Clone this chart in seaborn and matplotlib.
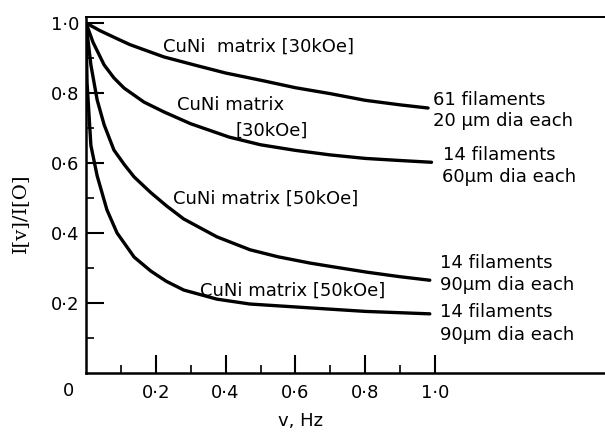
import matplotlib
matplotlib.use("Agg")
import matplotlib.pyplot as plt
import seaborn as sns
import pandas as pd
from matplotlib.ticker import FixedLocator

# ---- data ----
x_61_20 = [0, 0.04, 0.089, 0.126, 0.223, 0.318, 0.4, 0.507, 0.6, 0.70, 0.80, 0.9, 0.98]
y_61_20 = [1.0, 0.978, 0.955, 0.938, 0.903, 0.878, 0.857, 0.835, 0.815, 0.798, 0.779, 0.766, 0.757]

x_14_60 = [0, 0.02, 0.052, 0.08, 0.109, 0.166, 0.223, 0.3, 0.41, 0.5, 0.6, 0.7, 0.8, 0.9, 0.99]
y_14_60 = [1.0, 0.945, 0.88, 0.843, 0.814, 0.774, 0.746, 0.712, 0.674, 0.652, 0.636, 0.623, 0.613, 0.607, 0.602]

x_14_90a = [0, 0.014, 0.032, 0.052, 0.08, 0.11, 0.138, 0.186, 0.23, 0.28, 0.375, 0.47, 0.55, 0.642, 0.71, 0.805, 0.9, 0.985]
y_14_90a = [1.0, 0.88, 0.78, 0.709, 0.637, 0.595, 0.56, 0.515, 0.478, 0.44, 0.389, 0.352, 0.332, 0.314, 0.303, 0.288, 0.275, 0.265]

x_14_90b = [0, 0.003, 0.014, 0.032, 0.06, 0.089, 0.138, 0.186, 0.23, 0.28, 0.375, 0.47, 0.642, 0.8, 0.985]
y_14_90b = [1.0, 0.83, 0.65, 0.563, 0.466, 0.40, 0.331, 0.291, 0.262, 0.237, 0.211, 0.197, 0.186, 0.176, 0.169]

x_major = [0.2, 0.4, 0.6, 0.8, 1.0]
x_major_labels = ["0·2", "0·4", "0·6", "0·8", "1·0"]
x_minor = [0.1, 0.3, 0.5, 0.7, 0.9]
y_major = [0.2, 0.4, 0.6, 0.8, 1.0]
y_major_labels = ["0·2", "0·4", "0·6", "0·8", "1·0"]
y_minor = [0.1, 0.3, 0.5, 0.7, 0.9]

series = [
    (x_61_20, y_61_20),
    (x_14_60, y_14_60),
    (x_14_90a, y_14_90a),
    (x_14_90b, y_14_90b),
]

sns.set_theme(style="white")
plt.rcParams["font.family"] = ["DejaVu Sans"]
plt.rcParams["text.color"] = "black"
plt.rcParams["lines.solid_joinstyle"] = "round"
plt.rcParams["lines.solid_capstyle"] = "round"

fig = plt.figure(figsize=(6.05, 4.32), dpi=100)
ax = fig.add_axes([86 / 605, 1 - 373 / 432, 1 - 86 / 605, (373 - 17) / 432])

for xs, ys in series:
    df = pd.DataFrame({"x": xs, "y": ys})
    sns.lineplot(data=df, x="x", y="y", ax=ax, color="black", lw=2.4,
                 estimator=None, sort=True)

ax.set_xlim(0, 1.487)
ax.set_ylim(0, 1.017)
ax.set_xlabel("")
ax.set_ylabel("")

for s in ["left", "bottom", "top"]:
    ax.spines[s].set_visible(True)
    ax.spines[s].set_color("black")
ax.spines["left"].set_linewidth(1.8)
ax.spines["bottom"].set_linewidth(1.8)
ax.spines["top"].set_linewidth(1.4)
ax.spines["right"].set_visible(False)

ax.xaxis.set_major_locator(FixedLocator(x_major))
ax.set_xticklabels(x_major_labels)
ax.xaxis.set_minor_locator(FixedLocator(x_minor))
ax.yaxis.set_major_locator(FixedLocator(y_major))
ax.set_yticklabels(y_major_labels)
ax.yaxis.set_minor_locator(FixedLocator(y_minor))

ax.tick_params(axis="both", which="major", direction="in", length=13, width=1.5,
               color="black", labelsize=13, labelcolor="black")
ax.tick_params(axis="both", which="minor", direction="in", length=6, width=1.2,
               color="black")
ax.tick_params(axis="x", which="both", bottom=True, top=False, pad=8)
ax.tick_params(axis="y", which="both", left=True, right=False, pad=5)

ax.text(-0.05, -0.05, "0", ha="center", va="center", fontsize=13,
        transform=ax.transData, clip_on=False)

fs = 13
ax.text(0.221, 0.931, "CuNi  matrix [30kOe]", fontsize=fs, va="center", ha="left")
ax.text(0.261, 0.766, "CuNi matrix", fontsize=fs, va="center", ha="left")
ax.text(0.427, 0.691, "[30kOe]", fontsize=fs, va="center", ha="left")
ax.text(0.249, 0.497, "CuNi matrix [50kOe]", fontsize=fs, va="center", ha="left")
ax.text(0.327, 0.234, "CuNi matrix [50kOe]", fontsize=fs, va="center", ha="left")

ax.text(0.994, 0.78, "61 filaments", fontsize=fs, va="center", ha="left")
ax.text(0.994, 0.72, "20 μm dia each", fontsize=fs, va="center", ha="left")
ax.text(1.023, 0.623, "14 filaments", fontsize=fs, va="center", ha="left")
ax.text(1.020, 0.560, "60μm dia each", fontsize=fs, va="center", ha="left")
ax.text(1.014, 0.314, "14 filaments", fontsize=fs, va="center", ha="left")
ax.text(1.014, 0.251, "90μm dia each", fontsize=fs, va="center", ha="left")
ax.text(1.014, 0.174, "14 filaments", fontsize=fs, va="center", ha="left")
ax.text(1.014, 0.109, "90μm dia each", fontsize=fs, va="center", ha="left")

fig.text(20 / 605, 1 - 213 / 432, "I[v]/I[O]", rotation=90, fontsize=14,
         family="DejaVu Serif", ha="center", va="center")
fig.text(301 / 605, 1 - 421 / 432, "v, Hz", fontsize=13, ha="center", va="center")

fig.savefig("out.png", dpi=100, facecolor="white")
